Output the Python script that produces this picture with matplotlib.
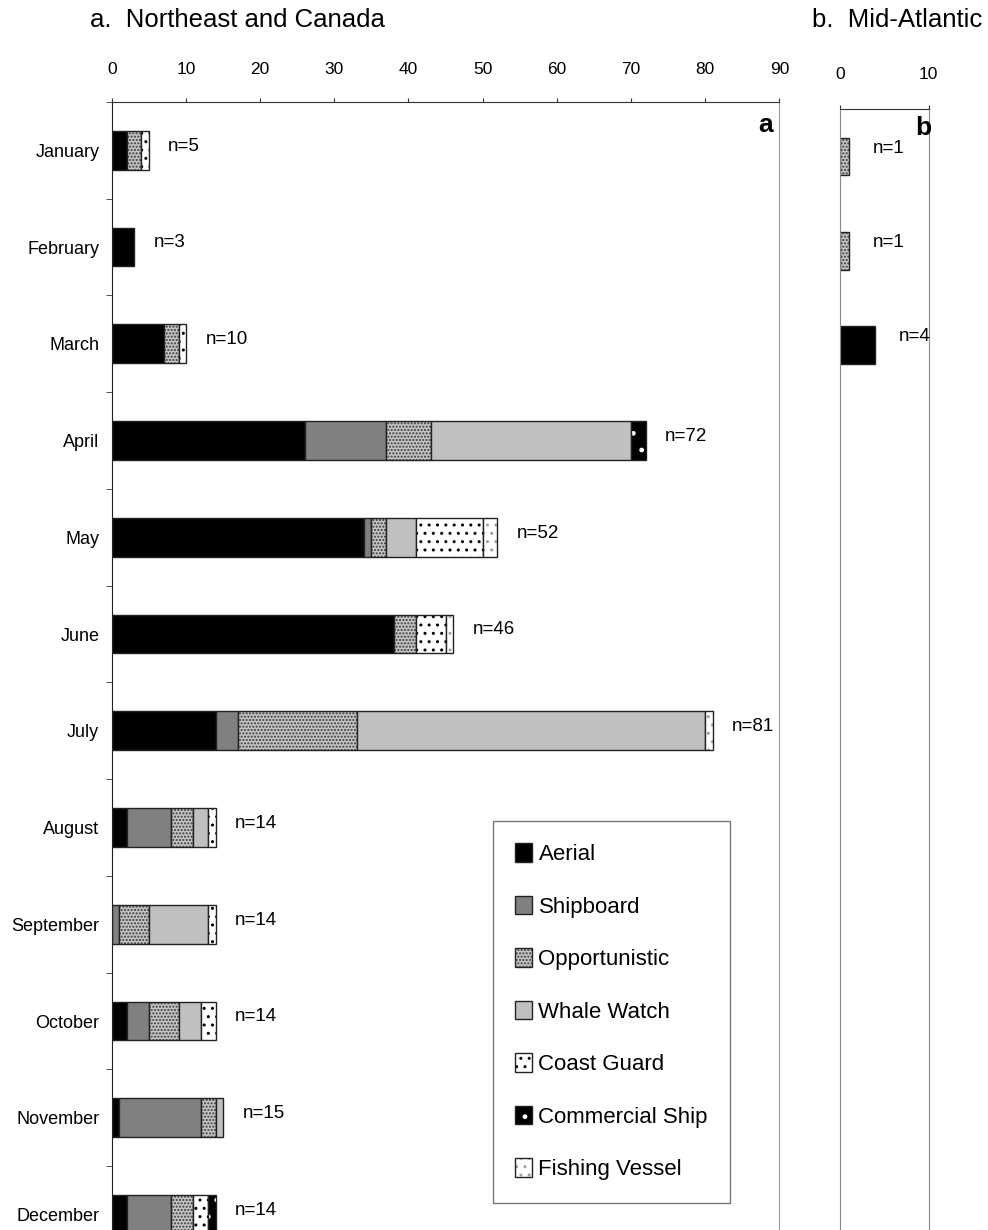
import numpy as np
import matplotlib
matplotlib.use('Agg')
import matplotlib.pyplot as plt
from matplotlib.patches import Patch

plt.rcParams['font.family'] = ['Liberation Sans', 'DejaVu Sans']
plt.rcParams['hatch.linewidth'] = 1.0

months = ['January', 'February', 'March', 'April', 'May', 'June', 'July',
          'August', 'September', 'October', 'November', 'December']
sources = ['Aerial', 'Shipboard', 'Opportunistic', 'Whale Watch',
           'Coast Guard', 'Commercial Ship', 'Fishing Vessel']

# panel a: Northeast and Canada
aerial_a      = [2, 3, 7, 26, 34, 38, 14, 2, 0, 2, 1, 2]
shipboard_a   = [0, 0, 0, 11, 1, 0, 3, 6, 1, 3, 11, 6]
opport_a      = [2, 0, 2, 6, 2, 3, 16, 3, 4, 4, 2, 3]
whalewatch_a  = [0, 0, 0, 27, 4, 0, 47, 2, 8, 3, 1, 0]
coastguard_a  = [1, 0, 1, 0, 9, 4, 0, 1, 1, 2, 0, 2]
commercial_a  = [0, 0, 0, 2, 0, 0, 0, 0, 0, 0, 0, 1]
fishing_a     = [0, 0, 0, 0, 2, 1, 1, 0, 0, 0, 0, 0]

# panel b: Mid-Atlantic
aerial_b      = [0, 0, 4, 0, 0, 0, 0, 0, 0, 0, 0, 0]
opport_b      = [1, 1, 0, 0, 0, 0, 0, 0, 0, 0, 0, 0]
zeros_b       = [0] * 12

# face colour, hatch, hatch colour
styles = [('black', '', 'black'),
          ('#808080', '', '#808080'),
          ('#c4c4c4', '.....', '#3a3a3a'),
          ('#c0c0c0', '', '#c0c0c0'),
          ('white', '..', 'black'),
          ('black', '.', 'white'),
          ('white', '..', '#a0a0a0')]

edge = '#222222'


def stacked(ax, series, height=0.4):
    y = np.arange(len(months))
    left = np.zeros(len(months))
    for vals, (fc, h, hc) in zip(series, styles):
        vals = np.array(vals, dtype=float)
        m = vals > 0
        ax.barh(y[m], vals[m], left=left[m], height=height, color=fc,
                hatch=h, edgecolor=hc, linewidth=0)
        ax.barh(y[m], vals[m], left=left[m], height=height, fill=False,
                edgecolor=edge, linewidth=1.0)
        left += vals
    return left


fig = plt.figure(figsize=(9.88, 12.3), dpi=100)
ax = fig.add_axes([0.1131, -0.0268, 0.6757, 0.9439])
axb = fig.add_axes([0.8502, -0.0089, 0.0898, 0.9200])

series_a = [aerial_a, shipboard_a, opport_a, whalewatch_a,
            coastguard_a, commercial_a, fishing_a]
tot_a = stacked(ax, series_a)
for i, t in enumerate(tot_a):
    ax.annotate('n=%d' % t, (t, i), xytext=(14, 3), textcoords='offset points',
                va='center', ha='left', fontsize=13.5)

ax.set_xlim(0, 90)
ax.set_ylim(11.5, -0.5)
ax.xaxis.tick_top()
ax.set_xticks(np.arange(0, 91, 10))
ax.tick_params(axis='x', direction='out', length=3, pad=15, labelsize=12.5,
               color='#333333')
ax.set_yticks(np.arange(12))
ax.set_yticklabels(months)
ax.set_yticks(np.arange(-0.5, 12, 1), minor=True)
ax.tick_params(axis='y', which='major', length=0, pad=9, labelsize=13)
ax.tick_params(axis='y', which='minor', length=4, color='#333333')
ax.spines['bottom'].set_visible(False)
ax.spines['top'].set_color('#333333')
ax.spines['left'].set_color('#222222')
ax.spines['right'].set_color('#999999')
ax.text(0.99, 0.98, 'a', transform=ax.transAxes, ha='right', va='center',
        fontsize=19, fontweight='bold')

handles = []
for (fc, h, hc), name in zip(styles, sources):
    p1 = Patch(facecolor=fc, hatch=h, edgecolor=hc, linewidth=0)
    p2 = Patch(fill=False, edgecolor=edge, linewidth=1.0)
    handles.append((p1, p2))
leg = ax.legend(handles, sources, loc='lower left', bbox_to_anchor=(0.571, 0.052),
                borderaxespad=0, fontsize=16, frameon=True, fancybox=False,
                labelspacing=1.38, handlelength=0.75, handleheight=0.9,
                handletextpad=0.3, borderpad=1.0)
leg.get_frame().set_edgecolor('#555555')
leg.get_frame().set_linewidth(1.0)

series_b = [aerial_b, zeros_b, opport_b, zeros_b, zeros_b, zeros_b, zeros_b]
tot_b = stacked(axb, series_b)
for i, t in enumerate(tot_b):
    if t > 0:
        axb.annotate('n=%d' % t, (t, i), xytext=(17, 6), textcoords='offset points',
                     va='center', ha='left', fontsize=13.5)

axb.set_xlim(0, 10)
axb.set_ylim(11.5, -0.5)
axb.xaxis.tick_top()
axb.set_xticks([0, 10])
axb.tick_params(axis='x', direction='out', length=3, pad=17, labelsize=12.5,
                color='#333333')
axb.set_yticks([])
axb.spines['bottom'].set_visible(False)
axb.spines['top'].set_color('#333333')
axb.spines['left'].set_color('#888888')
axb.spines['right'].set_color('#888888')
axb.text(10.3, -0.3, 'b', ha='right', va='center', fontsize=19, fontweight='bold')

fig.text(90 / 988, 1 - 20 / 1230, 'a.  Northeast and Canada', fontsize=18.5,
         ha='left', va='center')
fig.text(812 / 988, 1 - 20 / 1230, 'b.  Mid-Atlantic', fontsize=18.5,
         ha='left', va='center')

fig.savefig('out.png', dpi=100)
